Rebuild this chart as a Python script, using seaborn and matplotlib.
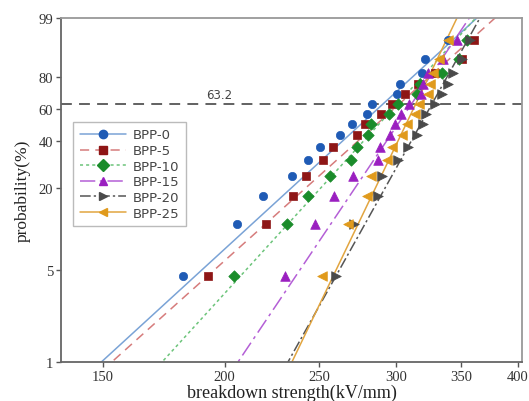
import numpy as np
import pandas as pd
import matplotlib
matplotlib.use("Agg")
import matplotlib.pyplot as plt
from matplotlib.lines import Line2D
import seaborn as sns

sns.set_theme(style="white")

# ---------------- data ----------------
series = ["BPP-0", "BPP-5", "BPP-10", "BPP-15", "BPP-20", "BPP-25"]
prob = [4.55, 11.04, 17.53, 24.03, 30.52, 37.01, 43.51, 50.0,
        56.49, 62.99, 69.48, 75.97, 82.47, 88.96, 95.45]

bpp0 = [181.2, 205.9, 219.0, 234.5, 243.5, 250.5, 262.7, 270.2,
        280.0, 283.3, 300.6, 302.7, 318.9, 321.1, 339.1]
bpp5 = [192.3, 220.5, 235.1, 242.4, 252.3, 258.4, 273.4, 278.7,
        289.4, 297.0, 306.3, 315.9, 328.8, 350.5, 360.6]
bpp10 = [204.4, 231.7, 243.5, 256.5, 269.6, 273.4, 280.7, 282.7,
         294.9, 301.3, 315.1, 317.4, 334.3, 348.0, 354.7]
bpp15 = [230.7, 247.6, 259.0, 270.9, 287.4, 288.7, 295.6, 299.1,
         303.4, 309.2, 318.1, 319.6, 323.4, 335.1, 346.4]
bpp20 = [260.2, 271.5, 287.4, 290.1, 301.3, 308.5, 315.1, 319.6,
         321.9, 328.8, 334.3, 339.1, 343.1, 350.5, 357.2]
bpp25 = [251.7, 267.7, 280.0, 282.7, 293.5, 297.0, 304.2, 307.8,
         313.6, 316.6, 323.4, 325.0, 327.3, 332.0, 339.1]

# Weibull fit parameters (scale alpha, shape beta)
alpha = [291.0, 302.4, 301.0, 311.2, 326.6, 314.3]
beta = [6.9, 6.76, 8.26, 11.2, 13.5, 15.7]

xticks = [150, 200, 250, 300, 350, 400]
yticks = [1, 5, 20, 40, 60, 80, 99]
ref_level = 63.2

# ---------------- styles ----------------
mk_col = ["#1f5bb5", "#8e1616", "#1a8c2a", "#9a1fc0", "#4a4a4a", "#e09a1c"]
ln_col = ["#7aa3d6", "#d67c7c", "#6cc47a", "#b45fd6", "#555555", "#e2a540"]
markers = ["o", "s", "D", "^", ">", "<"]
msizes = [36, 40, 34, 48, 48, 48]
dashes = [(None, None), (6, 4), (2, 2), (10, 3, 2, 3), (7, 2, 1.5, 2), (None, None)]


def weib(p_percent):
    p = np.asarray(p_percent, dtype=float) / 100.0
    return np.log(-np.log(1.0 - p))


values = [bpp0, bpp5, bpp10, bpp15, bpp20, bpp25]
rows = []
for name, vals in zip(series, values):
    for p, v in zip(prob, vals):
        rows.append({"series": name, "strength": v, "w": float(weib(p))})
df = pd.DataFrame(rows)

fig = plt.figure(figsize=(5.29, 4.02), dpi=100)
ax = fig.add_axes([61 / 529, 39 / 402, 461 / 529, 344 / 402])

# fitted lines
ylo, yhi = weib(0.5), weib(99.7)
line_rows = []
for name, a, b in zip(series, alpha, beta):
    for wv in (ylo, yhi):
        line_rows.append({"series": name, "strength": a * np.exp(wv / b), "w": float(wv)})
ldf = pd.DataFrame(line_rows)

for i, name in enumerate(series):
    sub = ldf[ldf.series == name]
    ls = "-" if dashes[i][0] is None else (0, dashes[i])
    ax.plot(sub.strength, sub.w, color=ln_col[i], lw=1.1, linestyle=ls, zorder=2)

for i, name in enumerate(series):
    sub = df[df.series == name]
    sns.scatterplot(data=sub, x="strength", y="w", ax=ax, marker=markers[i],
                    s=msizes[i], color=mk_col[i], edgecolor=mk_col[i],
                    linewidth=0.5, zorder=3, legend=False)

# 63.2 reference line
ax.axhline(weib(ref_level), color="#555555", lw=1.3, linestyle=(0, (6, 4)), zorder=1)
ax.text(197.5, weib(ref_level) + 0.05, "63.2", fontsize=8.5, color="#444444",
        family="DejaVu Sans", ha="center", va="bottom")

ax.set_xscale("log")
ax.set_xlim(135.8, 404)
ax.set_ylim(weib(1), weib(99))
ax.set_xticks(xticks)
ax.set_xticklabels([str(t) for t in xticks])
ax.xaxis.set_minor_locator(matplotlib.ticker.NullLocator())
ax.set_yticks(weib(yticks))
ax.set_yticklabels([str(t) for t in yticks])

for lab in ax.get_xticklabels() + ax.get_yticklabels():
    lab.set_family("Liberation Serif")
    lab.set_fontsize(10.5)
    lab.set_color("#333333")

ax.tick_params(axis="both", which="major", direction="out", length=3.5, width=1,
               color="#555555", pad=2, bottom=True, left=True, top=False, right=False)

for side, sp in ax.spines.items():
    sp.set_visible(True)
    sp.set_color("#666666" if side in ("left", "bottom") else "#999999")
    sp.set_linewidth(1.3)

ax.set_xlabel("breakdown strength(kV/mm)", family="Liberation Serif", fontsize=13,
              color="#222222", labelpad=1)
ax.set_ylabel("probability(%)", family="Liberation Serif", fontsize=12.5,
              color="#222222", labelpad=6)

handles = []
for i, name in enumerate(series):
    ls = "-" if dashes[i][0] is None else (0, dashes[i])
    handles.append(Line2D([0], [0], color=ln_col[i], lw=1.1, linestyle=ls,
                          marker=markers[i], markersize=6, markerfacecolor=mk_col[i],
                          markeredgecolor=mk_col[i], label=name))
leg = ax.legend(handles=handles, loc="upper left", bbox_to_anchor=(0.026, 0.698),
                borderaxespad=0, frameon=True, fancybox=False, handlelength=3.5,
                handletextpad=0.5, labelspacing=0.2, borderpad=0.5,
                prop={"family": "DejaVu Sans", "size": 9.5})
leg.get_frame().set_edgecolor("#aaaaaa")
leg.get_frame().set_linewidth(1.0)
for t in leg.get_texts():
    t.set_color("#444444")

fig.savefig("out.png", dpi=100)
